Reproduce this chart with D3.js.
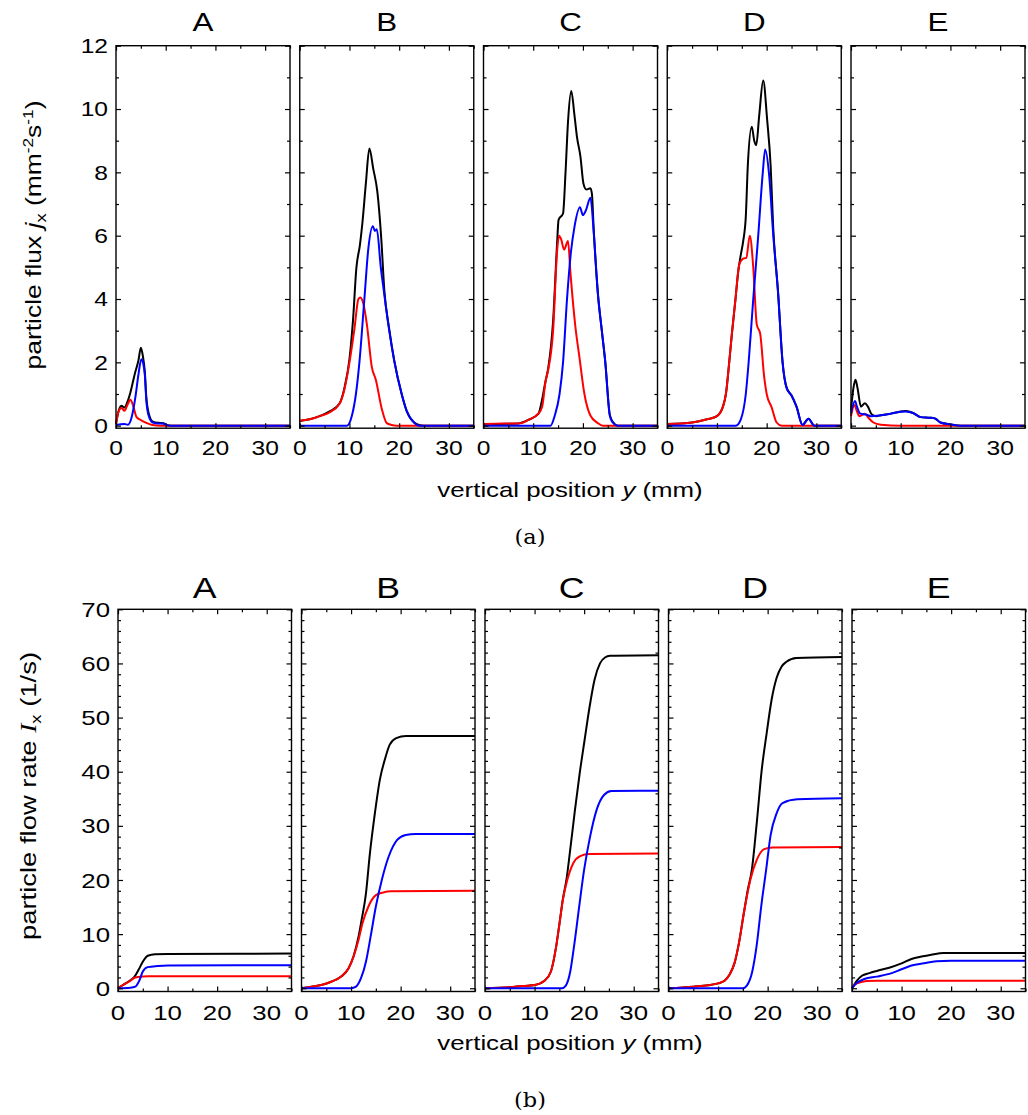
<!DOCTYPE html>
<html>
<head>
<meta charset="utf-8">
<script src="https://cdn.jsdelivr.net/npm/d3@7"></script>
<style>
  body { margin: 0; background: #fff; }
  svg text { font-family: "Liberation Sans", Arial, sans-serif; fill: #000; }
</style>
</head>
<body>
<svg id="chart" width="1028" height="1115"></svg>
<script>
// ---- data: (y position mm, value) pairs ----
const panelNames = ["A", "B", "C", "D", "E"];
const xTicks = [0, 10, 20, 30];
const xMinorTicks = [5, 15, 25, 35];
const fluxTicks = [0, 2, 4, 6, 8, 10, 12];
const fluxMinorTicks = [1, 3, 5, 7, 9, 11];
const rateTicks = [0, 10, 20, 30, 40, 50, 60, 70];
const rateMinorTicks = [2, 4, 6, 8, 12, 14, 16, 18, 22, 24, 26, 28, 32, 34, 36, 38, 42, 44, 46, 48, 52, 54, 56, 58, 62, 64, 66, 68];

// (a) particle flux j_x
const fluxA_total = [[0,0.05],[0.5,0.45],[1.1,0.63],[1.7,0.57],[2.3,0.75],[2.9,1.05],[3.8,1.65],[4.5,2.05],[5.0,2.46],[5.4,2.2],[5.8,1.7],[6.1,0.9],[6.6,0.38],[7.4,0.13],[8.5,0.09],[9.5,0.08],[10.2,0.02],[11,0],[35,0]];
const fluxA_red = [[0,0.05],[0.5,0.44],[1.1,0.56],[1.7,0.47],[2.3,0.65],[2.9,0.82],[3.5,0.6],[4.1,0.28],[5.1,0.17],[6.1,0.09],[7.1,0.03],[9,0],[35,0]];
const fluxA_blue = [[0,0.02],[1.7,0.05],[2.4,0.03],[3.2,0.3],[3.9,0.9],[4.5,1.6],[5.1,2.1],[5.5,1.95],[5.8,1.6],[6.1,0.8],[6.6,0.3],[7.4,0.1],[8.5,0.07],[9.5,0.07],[10.1,0.02],[11,0],[35,0]];

const fluxB_total = [[0,0.15],[2,0.2],[4,0.3],[6,0.45],[8,0.7],[9,1.2],[10,2.1],[10.7,3.3],[11.4,5.0],[12.1,5.7],[12.6,6.4],[13.3,7.65],[14.0,8.75],[14.8,8.1],[15.6,7.4],[16.4,5.9],[17,4.3],[18,3.05],[19,2.06],[20.5,1.0],[21.5,0.47],[23,0.1],[24,0.02],[25,0],[35,0]];
const fluxB_red = [[0,0.15],[1,0.18],[2,0.2],[4,0.3],[6,0.42],[8,0.69],[9,1.16],[10,2.0],[11,3.06],[11.8,4.0],[12.2,4.05],[12.8,3.85],[13.5,3.2],[14.5,1.85],[15.3,1.45],[16.5,0.53],[17.5,0.08],[18.5,0.02],[19.5,0],[35,0]];
const fluxB_blue = [[0,0],[9.5,0],[10.5,0.32],[11.3,1.0],[12,2.0],[13,4.0],[13.8,5.6],[14.7,6.3],[15.1,6.15],[15.5,6.2],[16.3,5.0],[17,4.15],[18,3.0],[19,2.05],[20.5,1.0],[21.5,0.47],[23,0.1],[24,0],[35,0]];

const fluxC_total = [[0,0.05],[7,0.07],[9,0.18],[11,0.37],[12.5,1.42],[13,1.8],[14,3.3],[14.8,5.75],[15.1,6.5],[16,6.7],[16.5,8.0],[17,9.6],[17.65,10.57],[18.3,9.8],[18.8,9.12],[19.5,8.5],[20.1,7.65],[20.7,7.46],[21.5,7.5],[21.8,7.33],[22.2,6.1],[23,4.2],[23.8,3.0],[24.5,2.0],[25.4,0.35],[26,0.12],[27,0],[35,0]];
const fluxC_red = [[0,0.05],[4,0.07],[7,0.07],[8,0.1],[9,0.18],[11,0.37],[11.8,0.6],[12.5,1.42],[13,1.75],[14,3.0],[14.8,5.5],[15.2,6.0],[15.6,5.9],[16.2,5.56],[17,5.83],[17.5,4.8],[18.5,3.1],[19.3,2.16],[20.3,1.0],[21.5,0.32],[23,0.08],[24,0],[35,0]];
const fluxC_blue = [[0,0],[13.5,0],[14.3,0.3],[15.3,1.0],[16,2.0],[16.8,4.0],[17.6,5.5],[18.3,6.28],[19.4,6.9],[20,6.65],[20.6,6.8],[21.5,7.2],[22.2,6.05],[23,4.17],[23.8,3.0],[24.5,2.0],[25.4,0.32],[26,0.1],[27,0],[35,0]];

const fluxD_total = [[0,0.05],[5,0.1],[8,0.2],[10,0.3],[11.2,0.6],[11.8,1.0],[12.5,2.06],[13,2.9],[13.7,3.96],[14.3,4.9],[14.8,5.4],[15.3,5.85],[15.8,6.6],[16.2,8.2],[17.0,9.44],[17.5,9.0],[17.9,8.86],[18.5,9.8],[19.3,10.9],[20.1,9.65],[20.8,8.2],[21.3,6.3],[22.3,4.2],[23.2,2.0],[24,1.2],[25,0.95],[26,0.6],[27.2,0.02],[28.4,0.22],[29.6,0],[35,0]];
const fluxD_red = [[0,0.05],[5,0.1],[8,0.2],[10,0.3],[11.2,0.6],[11.8,1.0],[12.5,2.06],[13,2.9],[13.7,3.96],[14.5,5.1],[15.2,5.27],[15.9,5.3],[16.6,6.0],[17.3,5.0],[18,3.2],[18.7,2.9],[19.5,1.53],[20,1.0],[21,0.58],[22,0.1],[23,0],[35,0]];
const fluxD_blue = [[0,0],[13.8,0],[14.8,0.2],[15.8,1.0],[16.4,2.06],[17.3,4.0],[18.3,6.0],[19.2,7.96],[19.7,8.72],[20.5,7.9],[21.3,6.07],[22.3,4.17],[23.2,2.0],[24,1.2],[25,0.95],[26,0.6],[27.2,0.02],[28.4,0.22],[29.6,0],[35,0]];

const fluxE_total = [[0,0.5],[0.5,1.2],[0.9,1.45],[1.3,1.2],[2,0.6],[2.8,0.71],[3.4,0.6],[4.2,0.35],[5,0.3],[6,0.33],[8,0.38],[10,0.45],[11,0.46],[12.5,0.4],[14,0.27],[16,0.25],[17,0.22],[18,0.1],[20,0.04],[22,0],[35,0]];
const fluxE_red = [[0,0.3],[0.7,0.65],[1.2,0.45],[1.7,0.3],[2.8,0.38],[3.5,0.25],[4.5,0.1],[6,0.03],[10,0],[35,0]];
const fluxE_blue = [[0,0.4],[0.8,0.78],[1.2,0.6],[1.8,0.39],[3,0.35],[4,0.3],[6,0.33],[8,0.38],[10,0.44],[11,0.45],[12.5,0.4],[14,0.27],[16,0.25],[17,0.22],[18,0.1],[20,0.04],[22,0],[35,0]];

// (b) particle flow rate I_x
const rateA_total = [[0,0],[1,0.6],[2.2,1.3],[3.3,2.1],[4.2,3.5],[5,4.9],[6,6.0],[7.5,6.3],[10,6.35],[35,6.4]];
const rateA_red = [[0,0],[1,0.6],[2.2,1.2],[3.5,2.0],[5,2.15],[6,2.2],[35,2.2]];
const rateA_blue = [[0,0],[2.5,0.1],[3.5,0.3],[4.3,1.4],[5,3.1],[6,3.9],[8,4.1],[10,4.2],[35,4.25]];

const rateB_total = [[0,0],[2,0.3],[4,0.6],[6,1.2],[8,2.15],[9.5,3.7],[10.5,5.9],[11.5,9.5],[12.1,12.5],[13,17.5],[13.8,24.9],[14.8,32.3],[15.8,38.5],[16.8,42.2],[17.8,45],[19.1,46.2],[21.1,46.6],[35,46.6]];
const rateB_red = [[0,0],[2,0.3],[4,0.6],[6,1.2],[8,2.15],[9.5,3.7],[10.5,5.85],[11.5,8.9],[12.3,12.0],[13.5,15.1],[15,17.2],[16.5,17.7],[18,17.9],[35,18.0]];
const rateB_blue = [[0,0],[10,0],[11,0.3],[12,1.85],[13,4.9],[14,9.85],[15,15.1],[16.2,20.0],[17.5,24.1],[19.3,27.4],[21,28.3],[23,28.5],[35,28.5]];

const rateC_total = [[0,0],[5,0.2],[8,0.43],[10,0.6],[12,1.4],[13.3,3.1],[14.3,7.4],[15,11.8],[15.7,16.4],[16.5,20.5],[17.1,24.9],[18.1,32.6],[19.1,39.7],[20.1,45.9],[21.1,52],[22.1,57],[23.2,60],[24.2,61.1],[25.2,61.4],[35,61.5]];
const rateC_red = [[0,0],[5,0.2],[8,0.43],[10,0.6],[12,1.4],[13.3,3.1],[14.3,7.4],[15,11.7],[15.7,16.3],[16.6,20.0],[17.8,23.1],[19.2,24.4],[21,24.8],[35,24.9]];
const rateC_blue = [[0,0],[15.5,0],[16.3,0.5],[17.2,3.1],[18,8.0],[19,15.1],[20,21.9],[21.2,28.0],[22.5,32.9],[24,35.7],[25.5,36.45],[35,36.5]];

const rateD_total = [[0,0],[5,0.3],[8,0.55],[10,0.9],[11.3,1.4],[12.3,2.5],[13.3,4.6],[14.2,8.3],[15.2,13.9],[16,18.2],[16.8,21.8],[17.8,30.5],[18.8,40.3],[19.8,47.1],[20.8,53.3],[21.8,57.3],[22.8,59.4],[23.8,60.3],[25.8,61],[35,61.2]];
const rateD_red = [[0,0],[5,0.3],[8,0.55],[10,0.9],[11.3,1.4],[12.3,2.5],[13.3,4.6],[14.2,8.3],[15.2,13.9],[16.5,20.0],[17.8,23.7],[19.3,25.7],[21,26.0],[35,26.1]];
const rateD_blue = [[0,0],[15,0],[15.8,0.5],[16.9,3.1],[17.8,8.0],[18.7,15.1],[19.7,21.9],[20.6,28.3],[21.8,32.3],[23,34.2],[26,34.9],[35,35.1]];

const rateE_total = [[0,0],[1,1.4],[2,2.3],[3.5,2.8],[5,3.2],[7.5,3.8],[10,4.6],[12,5.4],[14,5.85],[16,6.2],[18.5,6.5],[35,6.5]];
const rateE_red = [[0,0],[0.5,0.7],[1.5,1.05],[3,1.35],[5,1.4],[35,1.4]];
const rateE_blue = [[0,0],[1,1.0],[2.5,1.7],[5,2.15],[8,2.8],[10,3.5],[12,4.2],[14.5,4.6],[17,5.0],[20,5.1],[35,5.1]];

// series tables built from the arrays above
const fluxSeries = [
  [fluxA_total, fluxA_red, fluxA_blue],
  [fluxB_total, fluxB_red, fluxB_blue],
  [fluxC_total, fluxC_red, fluxC_blue],
  [fluxD_total, fluxD_red, fluxD_blue],
  [fluxE_total, fluxE_red, fluxE_blue]
];
const rateSeries = [
  [rateA_total, rateA_red, rateA_blue],
  [rateB_total, rateB_red, rateB_blue],
  [rateC_total, rateC_red, rateC_blue],
  [rateD_total, rateD_red, rateD_blue],
  [rateE_total, rateE_red, rateE_blue]
];
const seriesColors = ["#000000", "#ff0000", "#0000ff"];

// the figure's lettering is wider than Liberation Sans, stretch it a bit
const STRETCH = 1.23;

const svg = d3.select("#chart");

// text stretched along its reading direction
function label(parent, x, y, anchor, size, str, rot) {
  return parent.append("text")
    .attr("transform", "translate(" + x + "," + y + ")" + (rot ? " rotate(" + rot + ")" : "") + " scale(" + STRETCH + ",1)")
    .attr("text-anchor", anchor)
    .style("font-size", size + "px")
    .text(str);
}

// Draws one row of five small panels
function drawRow(cfg) {
  const y = d3.scaleLinear().domain(cfg.yDomain).range([cfg.bottom, cfg.top]);

  panelNames.forEach((name, i) => {
    const left = cfg.left0 + i * cfg.step;
    const x = d3.scaleLinear().domain([0, 35]).range([left, left + cfg.width]);
    const g = svg.append("g");

    // curves: total first, red and blue on top
    const line = d3.line()
      .x(d => x(d[0]))
      .y(d => y(d[1]))
      .curve(d3.curveMonotoneX);
    cfg.series[i].forEach((s, j) => {
      g.append("path")
        .datum(s)
        .attr("d", line)
        .style("fill", "none")
        .style("stroke", seriesColors[j])
        .style("stroke-width", 2)
        .style("stroke-linejoin", "round");
    });

    // inward ticks on all four sides (labels are drawn separately)
    const addTicks = (axis, tx, ty) => {
      const a = g.append("g")
        .attr("transform", "translate(" + tx + "," + ty + ")")
        .call(axis.tickFormat(""));
      a.select(".domain").remove();
      a.selectAll("line").style("stroke", "#000").style("stroke-width", 1.2);
    };
    addTicks(d3.axisBottom(x).tickValues(xTicks).tickSize(-5), 0, cfg.bottom);
    addTicks(d3.axisBottom(x).tickValues(xMinorTicks).tickSize(-3), 0, cfg.bottom);
    addTicks(d3.axisTop(x).tickValues(xTicks).tickSize(-5), 0, cfg.top);
    addTicks(d3.axisTop(x).tickValues(xMinorTicks).tickSize(-3), 0, cfg.top);
    addTicks(d3.axisLeft(y).tickValues(cfg.yMajor).tickSize(-5), left, 0);
    addTicks(d3.axisLeft(y).tickValues(cfg.yMinor).tickSize(-3), left, 0);
    addTicks(d3.axisRight(y).tickValues(cfg.yMajor).tickSize(-5), left + cfg.width, 0);
    addTicks(d3.axisRight(y).tickValues(cfg.yMinor).tickSize(-3), left + cfg.width, 0);

    // tick labels
    xTicks.forEach(v => label(g, x(v), cfg.bottom + cfg.xLabelOff, "middle", cfg.tickFont, v));
    if (i === 0) {
      cfg.yMajor.forEach(v => label(g, left - 8, y(v) + cfg.tickFont * 0.36, "end", cfg.tickFont, v));
    }

    // frame
    g.append("rect")
      .attr("x", left).attr("y", cfg.top)
      .attr("width", cfg.width).attr("height", cfg.bottom - cfg.top)
      .style("fill", "none").style("stroke", "#000").style("stroke-width", 1.4);

    // panel title
    label(g, left + cfg.width / 2, cfg.titleY, "middle", cfg.titleFont, name);
  });

  // shared x label
  const xl = label(svg, 570, cfg.xLabelY, "middle", cfg.labelFont, "");
  xl.append("tspan").text("vertical position ");
  xl.append("tspan").style("font-style", "italic").text("y");
  xl.append("tspan").text(" (mm)");

  // caption
  svg.append("text")
    .attr("transform", "translate(530," + cfg.captionY + ") scale(1.15,1)")
    .attr("text-anchor", "middle")
    .style("font-family", "'DejaVu Serif', 'Liberation Serif', serif")
    .style("font-size", "19.5px")
    .text(cfg.caption);
}

drawRow({
  left0: 116, step: 183.75, width: 174,
  top: 45.7, bottom: 428.2, yDomain: [-0.08, 12],
  yMajor: fluxTicks, yMinor: fluxMinorTicks,
  series: fluxSeries,
  tickFont: 20, titleFont: 25.5, labelFont: 21, xLabelOff: 27,
  titleY: 31, xLabelY: 497, captionY: 544, caption: "(a)"
});

drawRow({
  left0: 118, step: 183.5, width: 173.5,
  top: 609.3, bottom: 991.5, yDomain: [-0.6, 70],
  yMajor: rateTicks, yMinor: rateMinorTicks,
  series: rateSeries,
  tickFont: 21, titleFont: 29, labelFont: 21, xLabelOff: 28,
  titleY: 598, xLabelY: 1050, captionY: 1107, caption: "(b)"
});

// y axis labels
const yl1 = label(svg, 41, 235, "middle", 21.5, "", -90);
yl1.append("tspan").text("particle flux ");
yl1.append("tspan").style("font-style", "italic").text("j");
yl1.append("tspan").attr("dy", 5).style("font-size", "15px").text("x");
yl1.append("tspan").attr("dy", -5).text(" (mm");
yl1.append("tspan").attr("dy", -8).style("font-size", "14px").text("-2");
yl1.append("tspan").attr("dy", 8).text("s");
yl1.append("tspan").attr("dy", -8).style("font-size", "14px").text("-1");
yl1.append("tspan").attr("dy", 8).text(")");

const yl2 = label(svg, 36, 796, "middle", 22.3, "", -90);
yl2.append("tspan").text("particle flow rate ");
yl2.append("tspan").style("font-style", "italic")
  .style("font-family", "'Liberation Serif', serif").text("I");
yl2.append("tspan").attr("dy", 5).style("font-size", "15px").text("x");
yl2.append("tspan").attr("dy", -5).text(" (1/s)");
</script>
</body>
</html>
